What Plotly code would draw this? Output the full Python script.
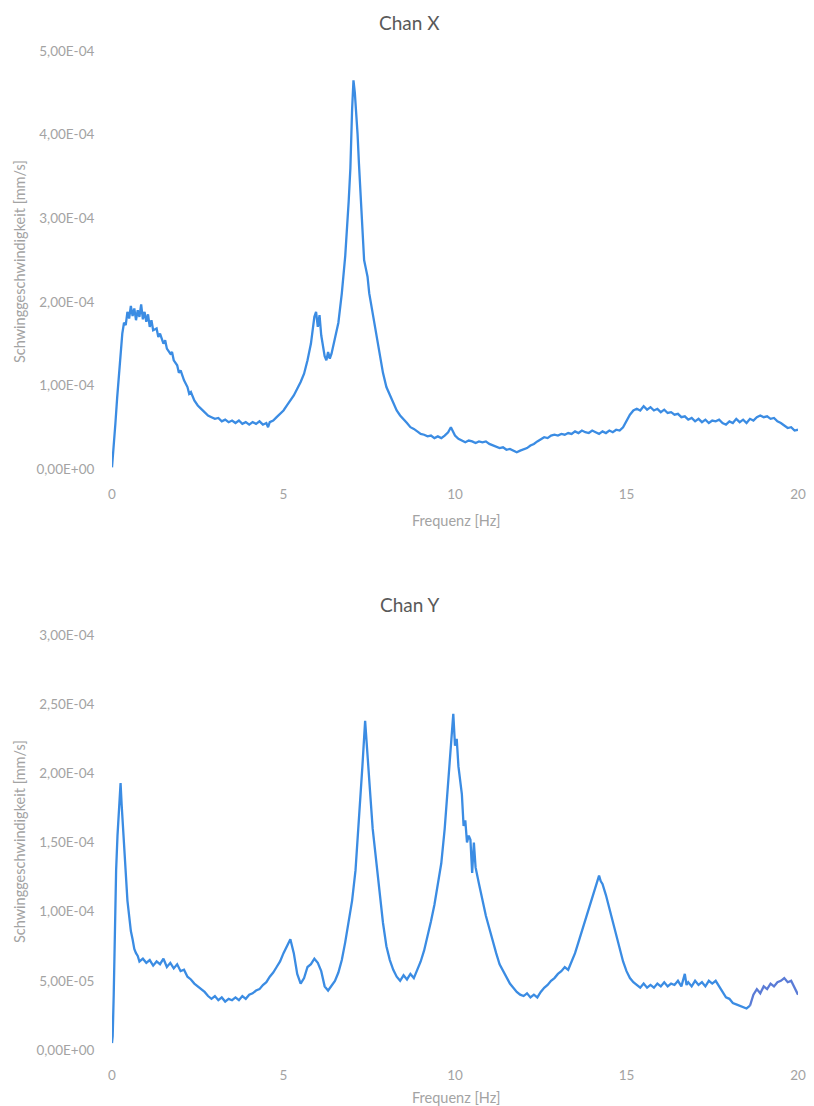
import plotly.graph_objects as go

# ---------------- data (amplitudes in units of 1e-4 mm/s) ----------------
chan_x_freq = [0.00, 0.05, 0.10, 0.15, 0.20, 0.25, 0.30, 0.35, 0.40, 0.45, 0.50, 0.55, 0.60, 0.65, 0.70,
               0.75, 0.80, 0.85, 0.90, 0.95, 1.00, 1.05, 1.10, 1.15, 1.20, 1.30, 1.35, 1.40, 1.50, 1.55,
               1.60, 1.70, 1.75, 1.80, 1.90, 1.95, 2.00, 2.10, 2.20, 2.25, 2.30, 2.40, 2.50, 2.60, 2.70,
               2.80, 2.90, 3.00, 3.10, 3.20, 3.30, 3.40, 3.50, 3.60, 3.70, 3.80, 3.90, 4.00, 4.10, 4.20,
               4.30, 4.40, 4.50, 4.55, 4.60, 4.70, 4.80, 4.90, 5.00, 5.10, 5.20, 5.30, 5.40, 5.50, 5.60,
               5.70, 5.80, 5.90, 5.95, 6.00, 6.05, 6.10, 6.20, 6.25, 6.30, 6.35, 6.40, 6.50, 6.60, 6.70,
               6.80, 6.90, 6.95, 7.00, 7.04, 7.08, 7.12, 7.16, 7.20, 7.25, 7.30, 7.35, 7.40, 7.45, 7.50,
               7.60, 7.70, 7.80, 7.90, 8.00, 8.10, 8.20, 8.30, 8.40, 8.50, 8.60, 8.70, 8.80, 8.90, 9.00,
               9.10, 9.20, 9.30, 9.40, 9.50, 9.60, 9.70, 9.80, 9.88, 9.95, 10.0, 10.1, 10.2, 10.3, 10.4,
               10.5, 10.6, 10.7, 10.8, 10.9, 11.0, 11.1, 11.2, 11.3, 11.4, 11.5, 11.6, 11.7, 11.8, 11.9,
               12.0, 12.1, 12.2, 12.3, 12.4, 12.5, 12.6, 12.7, 12.8, 12.9, 13.0, 13.1, 13.2, 13.3, 13.4,
               13.5, 13.6, 13.7, 13.8, 13.9, 14.0, 14.1, 14.2, 14.3, 14.4, 14.5, 14.6, 14.7, 14.8, 14.9,
               15.0, 15.1, 15.2, 15.3, 15.4, 15.5, 15.6, 15.7, 15.8, 15.9, 16.0, 16.1, 16.2, 16.3, 16.4,
               16.5, 16.6, 16.7, 16.8, 16.9, 17.0, 17.1, 17.2, 17.3, 17.4, 17.5, 17.6, 17.7, 17.8, 17.9,
               18.0, 18.1, 18.2, 18.3, 18.4, 18.5, 18.6, 18.7, 18.8, 18.9, 19.0, 19.1, 19.2, 19.3, 19.4,
               19.5, 19.6, 19.7, 19.8, 19.9, 20.0]
chan_x_amp = [0.02, 0.25, 0.55, 0.85, 1.15, 1.40, 1.62, 1.75, 1.72, 1.88, 1.80, 1.95, 1.83, 1.92, 1.78,
              1.90, 1.82, 1.97, 1.79, 1.88, 1.76, 1.85, 1.70, 1.78, 1.66, 1.68, 1.58, 1.62, 1.50, 1.54,
              1.44, 1.38, 1.40, 1.30, 1.24, 1.15, 1.18, 1.06, 0.98, 0.90, 0.92, 0.82, 0.76, 0.72, 0.68,
              0.64, 0.62, 0.60, 0.61, 0.57, 0.59, 0.56, 0.58, 0.55, 0.58, 0.54, 0.56, 0.53, 0.56, 0.54,
              0.57, 0.53, 0.55, 0.50, 0.56, 0.58, 0.62, 0.66, 0.70, 0.76, 0.82, 0.88, 0.96, 1.04, 1.14,
              1.30, 1.50, 1.82, 1.88, 1.70, 1.84, 1.60, 1.35, 1.30, 1.40, 1.32, 1.38, 1.55, 1.75, 2.10,
              2.55, 3.20, 3.60, 4.30, 4.65, 4.50, 4.30, 4.00, 3.65, 3.30, 2.90, 2.50, 2.40, 2.30, 2.10,
              1.85, 1.60, 1.35, 1.15, 0.98, 0.88, 0.78, 0.70, 0.64, 0.60, 0.55, 0.50, 0.48, 0.45, 0.42,
              0.41, 0.39, 0.40, 0.37, 0.39, 0.37, 0.40, 0.44, 0.50, 0.45, 0.40, 0.36, 0.34, 0.32, 0.34,
              0.33, 0.31, 0.33, 0.32, 0.33, 0.30, 0.28, 0.27, 0.25, 0.26, 0.23, 0.24, 0.22, 0.20, 0.22,
              0.24, 0.25, 0.28, 0.30, 0.33, 0.36, 0.38, 0.37, 0.40, 0.41, 0.40, 0.42, 0.41, 0.43, 0.42,
              0.45, 0.43, 0.46, 0.44, 0.43, 0.46, 0.44, 0.42, 0.45, 0.43, 0.46, 0.44, 0.47, 0.46, 0.50,
              0.58, 0.65, 0.70, 0.72, 0.70, 0.75, 0.71, 0.74, 0.70, 0.72, 0.68, 0.71, 0.67, 0.68, 0.65,
              0.66, 0.62, 0.63, 0.59, 0.61, 0.57, 0.60, 0.56, 0.59, 0.55, 0.58, 0.57, 0.59, 0.55, 0.53,
              0.57, 0.55, 0.60, 0.56, 0.59, 0.55, 0.60, 0.58, 0.62, 0.64, 0.62, 0.63, 0.60, 0.61, 0.57,
              0.55, 0.52, 0.49, 0.50, 0.46, 0.47]

chan_y_freq = [0.00, 0.02, 0.05, 0.08, 0.12, 0.16, 0.20, 0.25, 0.28, 0.32, 0.36, 0.40, 0.45, 0.50, 0.55,
               0.60, 0.65, 0.70, 0.75, 0.80, 0.90, 1.00, 1.10, 1.20, 1.30, 1.40, 1.50, 1.60, 1.70, 1.80,
               1.90, 2.00, 2.10, 2.20, 2.30, 2.40, 2.50, 2.60, 2.70, 2.80, 2.90, 3.00, 3.10, 3.20, 3.30,
               3.40, 3.50, 3.60, 3.70, 3.80, 3.90, 4.00, 4.10, 4.20, 4.30, 4.40, 4.50, 4.60, 4.70, 4.80,
               4.90, 5.00, 5.10, 5.20, 5.30, 5.40, 5.50, 5.60, 5.70, 5.80, 5.90, 6.00, 6.10, 6.20, 6.30,
               6.40, 6.50, 6.60, 6.70, 6.80, 6.90, 7.00, 7.10, 7.20, 7.30, 7.38, 7.45, 7.52, 7.60, 7.70,
               7.80, 7.90, 8.00, 8.10, 8.20, 8.30, 8.40, 8.50, 8.60, 8.70, 8.80, 8.90, 9.00, 9.10, 9.20,
               9.30, 9.40, 9.50, 9.60, 9.70, 9.80, 9.88, 9.95, 10.00, 10.05, 10.10, 10.15, 10.20, 10.25, 10.30,
               10.35, 10.40, 10.45, 10.50, 10.55, 10.60, 10.70, 10.80, 10.90, 11.00, 11.10, 11.20, 11.30, 11.40, 11.50,
               11.60, 11.70, 11.80, 11.90, 12.00, 12.10, 12.20, 12.30, 12.40, 12.50, 12.60, 12.70, 12.80, 12.90, 13.00,
               13.10, 13.20, 13.30, 13.40, 13.50, 13.60, 13.70, 13.80, 13.90, 14.00, 14.10, 14.20, 14.25, 14.30, 14.40,
               14.50, 14.60, 14.70, 14.80, 14.90, 15.00, 15.10, 15.20, 15.30, 15.40, 15.50, 15.60, 15.70, 15.80, 15.90,
               16.00, 16.10, 16.20, 16.30, 16.40, 16.50, 16.60, 16.70, 16.75, 16.80, 16.90, 17.00, 17.10, 17.20, 17.30,
               17.40, 17.50, 17.60, 17.70, 17.80, 17.90, 18.00, 18.10, 18.20, 18.30, 18.40, 18.50, 18.60]
chan_y_amp = [0.05, 0.10, 0.40, 0.80, 1.30, 1.55, 1.75, 1.93, 1.78, 1.62, 1.40, 1.25, 1.08, 0.97, 0.86,
              0.80, 0.73, 0.70, 0.68, 0.64, 0.66, 0.63, 0.65, 0.61, 0.64, 0.62, 0.66, 0.60, 0.63, 0.59,
              0.62, 0.57, 0.58, 0.53, 0.51, 0.48, 0.46, 0.44, 0.42, 0.39, 0.37, 0.39, 0.36, 0.38, 0.35,
              0.37, 0.36, 0.38, 0.36, 0.39, 0.37, 0.40, 0.41, 0.43, 0.44, 0.47, 0.49, 0.53, 0.56, 0.60,
              0.64, 0.70, 0.75, 0.80, 0.70, 0.55, 0.48, 0.52, 0.60, 0.62, 0.66, 0.63, 0.57, 0.46, 0.43,
              0.47, 0.50, 0.56, 0.65, 0.78, 0.92, 1.08, 1.30, 1.65, 2.05, 2.38, 2.10, 1.88, 1.60, 1.38,
              1.12, 0.92, 0.75, 0.65, 0.58, 0.53, 0.50, 0.54, 0.51, 0.55, 0.52, 0.58, 0.64, 0.72, 0.82,
              0.93, 1.05, 1.20, 1.35, 1.60, 1.95, 2.25, 2.43, 2.20, 2.25, 2.05, 1.95, 1.85, 1.62, 1.66,
              1.50, 1.55, 1.52, 1.28, 1.50, 1.32, 1.20, 1.08, 0.97, 0.88, 0.78, 0.70, 0.62, 0.57, 0.52,
              0.48, 0.45, 0.42, 0.40, 0.39, 0.41, 0.38, 0.40, 0.38, 0.42, 0.45, 0.47, 0.50, 0.52, 0.55,
              0.57, 0.60, 0.58, 0.64, 0.70, 0.78, 0.86, 0.94, 1.02, 1.10, 1.18, 1.26, 1.22, 1.20, 1.12,
              1.02, 0.92, 0.82, 0.72, 0.64, 0.57, 0.52, 0.49, 0.47, 0.45, 0.48, 0.45, 0.47, 0.45, 0.48,
              0.46, 0.49, 0.46, 0.48, 0.47, 0.50, 0.46, 0.55, 0.47, 0.49, 0.46, 0.50, 0.47, 0.49, 0.46,
              0.50, 0.48, 0.50, 0.46, 0.42, 0.38, 0.37, 0.34, 0.33, 0.32, 0.31, 0.30, 0.32]

chan_y_tail_freq = [18.60, 18.70, 18.80, 18.90, 19.00, 19.10, 19.20, 19.30, 19.40, 19.50, 19.60, 19.70, 19.80, 19.90, 20.00]
chan_y_tail_amp = [0.32, 0.40, 0.44, 0.41, 0.46, 0.44, 0.48, 0.46, 0.49, 0.50, 0.52, 0.49, 0.50, 0.45, 0.40]

x_tick_vals = [0, 5, 10, 15, 20]
x_tick_text = ["0", "5", "10", "15", "20"]
top_y_tick_vals = [0, 1e-4, 2e-4, 3e-4, 4e-4, 5e-4]
top_y_tick_text = ["0,00E+00", "1,00E-04", "2,00E-04", "3,00E-04", "4,00E-04", "5,00E-04"]
bot_y_tick_vals = [0, 5e-5, 1e-4, 1.5e-4, 2e-4, 2.5e-4, 3e-4]
bot_y_tick_text = ["0,00E+00", "5,00E-05", "1,00E-04", "1,50E-04", "2,00E-04", "2,50E-04", "3,00E-04"]

titles = ["Chan X", "Chan Y"]
x_title = "Frequenz [Hz]"
y_title = "Schwinggeschwindigkeit [mm/s]"

SCALE = 1e-4
LINE = "#3b8ce3"
TAIL = "#5a7bd6"
TICK_COL = "#a3a3a3"
TITLE_COL = "#595959"
FONT = "Lato"

fig = go.Figure()
fig.add_trace(go.Scatter(x=chan_x_freq, y=[v * SCALE for v in chan_x_amp], mode="lines",
                         line=dict(color=LINE, width=2.3), xaxis="x", yaxis="y", showlegend=False))
fig.add_trace(go.Scatter(x=chan_y_freq, y=[v * SCALE for v in chan_y_amp], mode="lines",
                         line=dict(color=LINE, width=2.3), xaxis="x2", yaxis="y2", showlegend=False))
fig.add_trace(go.Scatter(x=chan_y_tail_freq, y=[v * SCALE for v in chan_y_tail_amp], mode="lines",
                         line=dict(color=TAIL, width=2.3), xaxis="x2", yaxis="y2", showlegend=False))

W, H = 814, 1106
ML, MR, MT, MB = 112, 8, 51, 56
ph = H - MT - MB


def py(p):
    return (H - MB - p) / ph


def px(p):
    return (p - ML) / (W - ML - MR)


axis_common = dict(showgrid=False, zeroline=False, showline=False, ticks="outside",
                   tickcolor="rgba(0,0,0,0)", tickfont=dict(family=FONT, size=13.5, color=TICK_COL))

fig.update_layout(
    width=W, height=H, margin=dict(l=ML, r=MR, t=MT, b=MB),
    paper_bgcolor="white", plot_bgcolor="white",
    xaxis=dict(domain=[0, 1], anchor="y", range=[0, 20], tickvals=x_tick_vals, ticktext=x_tick_text,
               ticklen=13, **axis_common),
    yaxis=dict(domain=[py(469), 1], anchor="x", range=[0, 5e-4], tickvals=top_y_tick_vals,
               ticktext=top_y_tick_text, ticklen=14, **axis_common),
    xaxis2=dict(domain=[0, 1], anchor="y2", range=[0, 20], tickvals=x_tick_vals, ticktext=x_tick_text,
                ticklen=13, **axis_common),
    yaxis2=dict(domain=[0, py(635)], anchor="x2", range=[0, 3e-4], tickvals=bot_y_tick_vals,
                ticktext=bot_y_tick_text, ticklen=14, **axis_common),
)

ann = []
for t, yy in zip(titles, [22, 605]):
    ann.append(dict(text=t, x=px(413), y=py(yy), xref="paper", yref="paper", showarrow=False,
                    xanchor="center", yanchor="middle", font=dict(family=FONT, size=19, color=TITLE_COL)))
for yy in [520, 1097]:
    ann.append(dict(text=x_title, x=px(460), y=py(yy), xref="paper", yref="paper", showarrow=False,
                    xanchor="center", yanchor="middle", font=dict(family=FONT, size=14.5, color=TICK_COL)))
for yy in [262, 842]:
    ann.append(dict(text=y_title, x=px(18), y=py(yy), xref="paper", yref="paper", showarrow=False,
                    textangle=-90, xanchor="center", yanchor="middle",
                    font=dict(family=FONT, size=14.5, color=TICK_COL)))
fig.update_layout(annotations=ann)

fig.write_html("out.html")
